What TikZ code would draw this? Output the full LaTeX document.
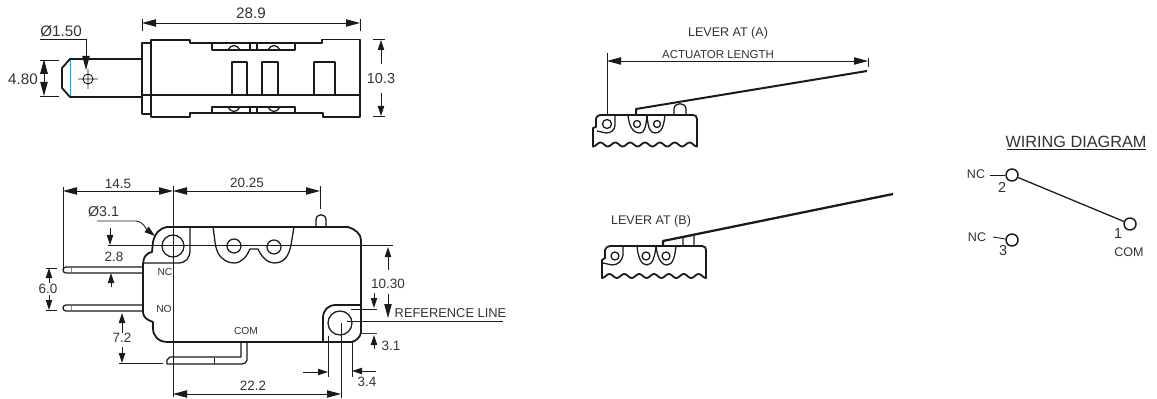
\documentclass[tikz,border=0pt]{standalone}
\usepackage{fontspec}
\setmainfont{Liberation Sans}
\usetikzlibrary{arrows.meta}
\definecolor{ink}{HTML}{1A1A1A}
\definecolor{txt}{HTML}{333333}
\definecolor{cyanline}{HTML}{3A9BD5}
\tikzset{
 outline/.style={draw=ink,line width=1.35pt,line join=round},
 med/.style={draw=ink,line width=0.95pt,line join=round},
 thin line/.style={draw=ink,line width=0.65pt},
 bigarrow/.style={thin line,-{Triangle[length=10.5pt,width=5.5pt]}},
 bigboth/.style={thin line,{Triangle[length=10.5pt,width=5.5pt]}-{Triangle[length=10.5pt,width=5.5pt]}},
 smallarrow/.style={thin line,-{Triangle[length=7.5pt,width=4.8pt]}},
 lab/.style={text=txt,font=\fontsize{10.1pt}{11pt}\selectfont,inner sep=0pt},
 top lab/.style={text=txt,font=\fontsize{11.4pt}{12pt}\selectfont,inner sep=0pt},
 tiny lab/.style={text=txt,font=\fontsize{7.7pt}{8pt}\selectfont,inner sep=0pt},
 mid lab/.style={text=txt,font=\fontsize{9.4pt}{10pt}\selectfont,inner sep=0pt},
 term/.style={circle,draw=ink,line width=1.1pt,minimum size=9pt,inner sep=0pt},
}
\begin{document}
\begin{tikzpicture}[x=0.75pt,y=-0.75pt]
\useasboundingbox (0,0) rectangle (1157,399);
\fill[white] (0,0) rectangle (1157,399);
% ---- top view ----
\draw[outline] (151,40) -- (190,40) -- (190,43) -- (322,43) -- (322,39.5) -- (360,39.5) -- (360,117) -- (323,117) -- (323,113) -- (190,113) -- (190,117) -- (151,117) -- cycle;
\draw[med] (151,43) -- (142,43) -- (142,114) -- (151,114);
\draw[outline] (142,59) -- (70,59) -- (62,68) -- (62,88) -- (70,97) -- (142,97);
\draw[draw=cyanline,line width=0.7pt] (70,60) -- (70,96);
\draw[med] (142,95) -- (360,95);
\foreach \a/\b in {232/247,262/278,314/335}{\draw[med] (\a,95) -- (\a,62) -- (\b,62) -- (\b,95);}
\draw[med] (212,43) -- (212,50) -- (295,50) -- (295,43);
\draw[med] (212,113) -- (212,107) -- (295,107) -- (295,113);
\draw[med] (228,50) .. controls (231,44) and (237,44) .. (240,50);
\draw[med] (268,50) .. controls (271,44) and (277,44) .. (280,50);
\draw[med] (228,107) .. controls (231,113) and (237,113) .. (240,107);
\draw[med] (268,107) .. controls (271,113) and (277,113) .. (280,107);
\draw[med] (250,43) -- (250,50) (257,43) -- (257,50) (250,107) -- (250,113) (257,107) -- (257,113);
\draw[thin line] (88,79) circle (5) (78,79) -- (98,79) (88,69) -- (88,89);
\node[top lab] (d150) at (61,31) {Ø1.50};
\coordinate (d150a) at (40,39); \coordinate (d150b) at (86,39); \coordinate (d150c) at (86,70);
\draw[thin line] (d150a) -- (d150b);
\draw[bigarrow] (d150b) -- (d150c);
\node[top lab] (d480) at (23,79) {4.80};
\draw[thin line] (40,60) -- (59,60) (40,96) -- (59,96);
\draw[bigboth] (44,60) -- (44,96);
\draw[bigarrow] (44,80) -- (44,60);
\node[top lab] (d289) at (251,13) {28.9};
\draw[bigboth] (142,23) -- (360,23);
\draw[thin line] (142,19) -- (142,31) (360,19) -- (360,31);
\node[top lab,font=\fontsize{10.9pt}{12pt}\selectfont] (d103) at (381,78) {10.3};
\draw[thin line] (373,39) -- (385,39) (373,116) -- (385,116);
\draw[smallarrow] (381,64) -- (381,40);
\draw[smallarrow] (381,93) -- (381,116);
% ---- side view ----
\draw[outline] (167,227) -- (348,227) .. controls (355,229) and (361,234) .. (361,240) -- (361,332) .. controls (361,337) and (355,342) .. (351,342) -- (168,342) .. controls (158,342) and (153,336) .. (153,328) -- (153,322) .. controls (147,320) and (143,317) .. (143,312) -- (143,266) .. controls (143,256) and (147,253) .. (152,252) -- (153,242) .. controls (155,233) and (160,228) .. (167,227) -- cycle;
\draw[med] (190,227) -- (190,250) .. controls (190,258) and (186,263) .. (178,263) -- (143,263);
\draw[med] (173,246) circle (11);
\draw[med] (213,227) .. controls (215,240) and (215,247) .. (218,253) .. controls (222,260) and (228,263) .. (234,263) .. controls (242,263) and (247,256) .. (250,249) -- (258,249) .. controls (261,256) and (267,263) .. (274,263) .. controls (285,263) and (289,255) .. (291,245) -- (294,227);
\draw[med] (234,246) circle (7) (274,247) circle (7);
\draw[med] (316,227) -- (316,220) .. controls (316,213) and (326,213) .. (326,220) -- (326,227);
\draw[outline] (323,342) -- (323,318) .. controls (323,310) and (328,305) .. (336,305) -- (361,305);
\draw[med] (340,323) circle (12);
\draw[med] (143,267) -- (66,267) .. controls (62,267) and (62,273) .. (66,273) -- (143,273);
\draw[med] (143,305) -- (66,305) .. controls (62,305) and (62,311) .. (66,311) -- (143,311);
\draw[draw=cyanline,line width=0.7pt] (71,268) -- (71,272) (71,306) -- (71,310);
\draw[med] (241,342) -- (241,357) -- (170,357) -- (167,360) -- (167,364) -- (242,364) .. controls (245,364) and (247,362) .. (247,360) -- (247,342);
\draw[thin line] (214,358) -- (214,364);
\node[tiny lab] (nc) at (165,272) {NC};
\node[tiny lab] (no) at (164,309) {NO};
\node[tiny lab] (com) at (246,331) {COM};
\draw[thin line] (173,186) -- (173,397);
\draw[thin line] (63,187) -- (63,268);
\draw[bigboth] (63,191) -- (173,191);
\draw[thin line] (320,186) -- (320,209);
\draw[bigboth] (173,191) -- (320,191);
\node[lab] (d145) at (118,184) {14.5};
\node[lab] (d2025) at (247,183) {20.25};
\node[lab,font=\fontsize{10.7pt}{11pt}\selectfont] (d31a) at (103.5,212) {Ø3.1};
\draw[thin line,-{Triangle[length=8pt,width=5pt]}] (97,221) -- (136,221) .. controls (143,221) and (146,229) .. (155,236);
\draw[thin line] (108,245) -- (393,245);
\draw[smallarrow] (110,228) -- (110,245);
\draw[smallarrow] (111,287) -- (111,273);
\node[lab] (d28) at (114,257) {2.8};
\draw[thin line] (46,268) -- (57,268) (46,310) -- (57,310);
\draw[smallarrow] (49,283) -- (49,268);
\draw[smallarrow] (49,295) -- (49,310);
\node[lab] (d60) at (48,289) {6.0};
\draw[smallarrow] (122,333) -- (122,313);
\draw[smallarrow] (122,347) -- (122,363);
\draw[thin line] (119,363) -- (163,363);
\node[lab] (d72) at (122,338) {7.2};
\draw[thin line] (341,323) -- (341,398);
\draw[bigboth] (173,394) -- (341,394);
\node[lab] (d222) at (253,386) {22.2};
\draw[thin line] (347,321) -- (503,321);
\node[lab,font=\fontsize{9.65pt}{10pt}\selectfont] (ref) at (450.5,313) {REFERENCE LINE};
\node[lab] (d1030) at (388,284) {10.30};
\draw[smallarrow] (388,270) -- (388,247);
\draw[bigarrow] (388,294) -- (388,318);
\draw[thin line] (351,309) -- (377,309);
\draw[draw=ink!70!cyanline,line width=0.7pt] (361,333) -- (377,333);
\draw[smallarrow] (374,293) -- (374,308);
\draw[smallarrow] (374,349) -- (374,335);
\node[lab] (d31b) at (391,346) {3.1};
\draw[thin line] (328,336) -- (328,377) (352,342) -- (352,377);
\draw[smallarrow] (303,372) -- (328,372);
\draw[smallarrow] (376,371) -- (352,371);
\node[lab] (d34) at (367,382) {3.4};
% ---- lever A ----
\node[mid lab] (leva) at (728,33) {LEVER AT (A)};
\node[mid lab,font=\fontsize{8.6pt}{9pt}\selectfont] (actl) at (718,55) {ACTUATOR LENGTH};
\draw[bigboth] (607,61) -- (868,61);
\draw[thin line] (607,53) -- (607,115) (868,58) -- (868,67);
\draw[outline,line width=1.5pt] (636,115) -- (636,109) -- (867,71);
\draw[outline] (600,115) -- (693,115) .. controls (695,115) and (697,116) .. (697,119) -- (697,146.5)
 -- plot[domain=0:7,samples=85,variable=\t] ({697-\t*14.86},{144.5+2*cos(360*\t)}) -- (593,128) -- (596,127) -- (596,119) .. controls (596,117) and (598,115) .. (600,115);
\draw[med] (615,115) -- (615,125) .. controls (615,130) and (611,133) .. (606,133) -- (597,131);
\draw[med] (607,124) circle (4.5);
\draw[med] (628,115) .. controls (629,125) and (632,133) .. (640,133) .. controls (644,133) and (646,128) .. (647,115) .. controls (648,128) and (650,133) .. (655,133) .. controls (662,133) and (664,125) .. (665,115);
\draw[med] (637,124) circle (3.5) (657,124) circle (3.5);
\draw[med] (674,115) -- (674,109) .. controls (674,102) and (686,102) .. (686,109) -- (686,115);
% ---- lever B ----
\node[mid lab] (levb) at (651,221) {LEVER AT (B)};
\draw[outline,line width=1.7pt] (663,246) -- (663,241) -- (893,194);
\draw[outline] (610,246) -- (702,246) .. controls (705,246) and (706,248) .. (706,250) -- (706,278)
 -- plot[domain=0:7,samples=85,variable=\t] ({706-\t*14.86},{276+2*cos(360*\t)}) -- (602,260) -- (605,258) -- (605,250) .. controls (605,248) and (608,246) .. (610,246);
\draw[med] (623,246) -- (623,255) .. controls (622,261) and (618,265) .. (612,265) -- (603,263);
\draw[med] (615,256) circle (4);
\draw[med] (637,246) .. controls (638,257) and (641,265) .. (647,265) .. controls (653,265) and (655,255) .. (656,246) .. controls (657,255) and (660,265) .. (667,265) .. controls (673,265) and (675,256) .. (676,246);
\draw[med] (646,256) circle (4) (666,256) circle (4);
\draw[med] (683,246) -- (683,237) -- (694,235) -- (694,246);
% ---- wiring ----
\node[lab,font=\fontsize{12.2pt}{13pt}\selectfont] (wd) at (1076,142) {WIRING DIAGRAM};
\draw[thin line] (1007,149) -- (1146,149);
\node[term] (t2) at (1012,175) {};
\node[term] (t1) at (1130,224) {};
\node[term] (t3) at (1012,240) {};
\draw[med] (t2) -- (t1);
\node[mid lab] (nca) at (976,174) {NC};
\node[mid lab] (ncb) at (977,237) {NC};
\coordinate (dash2) at (990,175);
\coordinate (dash3) at (993,237);
\draw[thin line] (dash2) -- (t2);
\draw[thin line] (dash3) -- (t3);
\node[top lab,font=\fontsize{10.8pt}{11pt}\selectfont] (n2) at (1002,187) {2};
\node[top lab,font=\fontsize{10.8pt}{11pt}\selectfont] (n3) at (1003,251) {3};
\node[top lab,font=\fontsize{10.8pt}{11pt}\selectfont] (n1) at (1118,234) {1};
\node[mid lab] (coml) at (1129,252) {COM};
\end{tikzpicture}
\end{document}
